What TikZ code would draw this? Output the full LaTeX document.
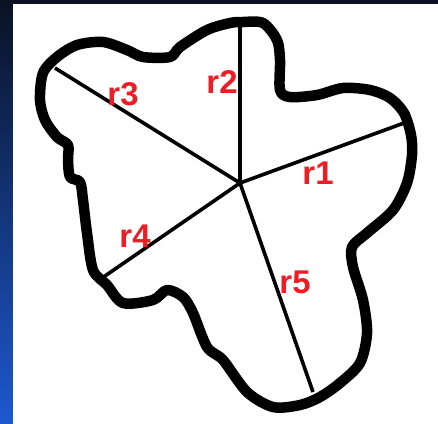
\documentclass[tikz,border=0pt]{standalone}
\usepackage{fontspec}
\setmainfont{Liberation Sans}
\usepackage{tikz}
\usetikzlibrary{positioning,calc,backgrounds}
\usepackage{xcolor}
\definecolor{labelred}{HTML}{EE1D25}
\definecolor{navytop}{HTML}{0A1224}
\definecolor{bluebottom}{HTML}{1C58D0}

\begin{document}
\begin{tikzpicture}[
  x=1bp, y=-1bp,
  outline/.style={line width=10.5bp,line join=round,draw=black},
  ray/.style={line width=3.6bp,draw=black},
  rlabel/.style={text=labelred,font=\fontsize{33}{33}\selectfont\bfseries,inner sep=0pt}
]
\useasboundingbox (0,0) rectangle (438,423);
\fill[navytop] (0,0) rectangle (438,4);
\shade[top color=navytop,bottom color=bluebottom] (0,0) rectangle (13,423);
\fill[white] (13,4) rectangle (438,423);
\coordinate (c) at (240,183);
\coordinate (e1) at (404,123);
\coordinate (e2) at (240,22);
\coordinate (e3) at (55,68);
\coordinate (e4) at (102,278);
\coordinate (e5) at (313,392);
\draw[ray] (c) -- (e1);
\draw[ray] (c) -- (e2);
\draw[ray] (c) -- (e3);
\draw[ray] (c) -- (e4);
\draw[ray] (c) -- (e5);
\draw[outline] plot[smooth cycle,tension=0.5] coordinates {
  (207,30) (230,23) (243,22) (263,23) (277,40) (280,60) (280,90) (290,97)
  (317,95) (343,88) (370,90) (390,98) (404,113) (411,135) (412,155) (407,183)
  (393,210) (367,233) (352,247) (353,267) (363,300) (367,333) (360,363) (340,383)
  (320,397) (300,405) (273,407) (247,392) (223,360) (207,347) (193,313) (183,297)
  (167,290) (153,300) (123,303) (107,285) (93,270) (87,233) (83,200) (80,182)
  (70,177) (68,160) (68,145) (57,137) (45,120) (40,100) (43,73) (57,57)
  (77,45) (103,42) (127,50) (143,57) (170,57) (180,47)};
\node[rlabel] (r1) at (318,173) {r1};
\node[rlabel] (r2) at (222,82) {r2};
\node[rlabel] (r3) at (123,94) {r3};
\node[rlabel] (r4) at (135,236) {r4};
\node[rlabel] (r5) at (295,282) {r5};
\end{tikzpicture}
\end{document}
